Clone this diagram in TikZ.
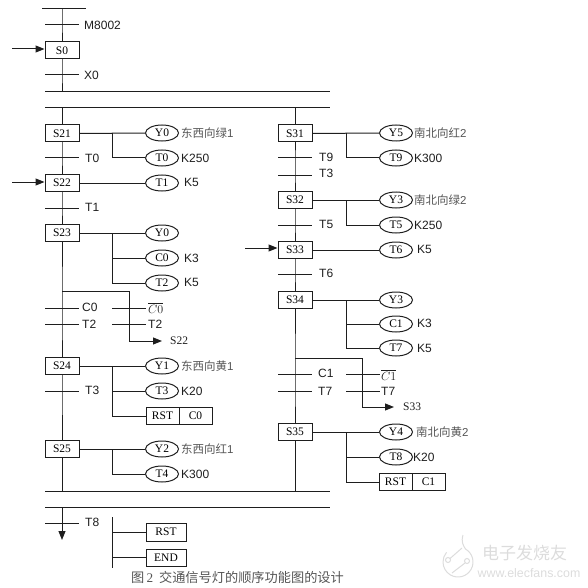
\documentclass[tikz,border=0pt]{standalone}
\usepackage{fontspec}
\setmainfont{Liberation Serif}
\setsansfont{Liberation Sans}
\newfontfamily\cjk{Noto Sans CJK SC}
\definecolor{ink}{RGB}{30,30,30}
\definecolor{soft}{RGB}{85,85,85}
\definecolor{faint}{RGB}{220,220,220}
\usetikzlibrary{arrows.meta,positioning,shapes.geometric}
\tikzset{
  stepbox/.style={draw=ink, fill=white, line width=1pt, minimum width=34pt, minimum height=17pt,
              inner sep=0pt, font=\fontsize{11.5}{12}\selectfont},
  lamp/.style={draw=ink, ellipse, line width=1pt, minimum width=33pt, minimum height=16pt,
              inner sep=0pt, font=\fontsize{11.5}{12}\selectfont},
  cell/.style={draw=ink, fill=white, line width=1pt, minimum width=33pt, minimum height=17pt,
              inner sep=0pt, font=\fontsize{11.5}{12}\selectfont},
  bar/.style={fill=ink, minimum width=34pt, minimum height=1pt, inner sep=0pt, outer sep=0pt},
  bus/.style={fill=ink, minimum width=285pt, minimum height=1pt, inner sep=0pt, outer sep=0pt},
  lab/.style={anchor=west, inner sep=0pt, text=ink, font=\sffamily\fontsize{12}{13}\selectfont},
  note/.style={anchor=west, inner sep=0pt, text=soft, font=\cjk\fontsize{11.5}{12}\selectfont},
  neg/.style={anchor=west, inner sep=0pt, text=ink, font=\fontsize{13}{14}\selectfont},
  wire/.style={ink, line width=1pt},
  flow/.style={ink, line width=1pt, -{Triangle[length=9pt,width=7pt]}},
}
\begin{document}
\begin{tikzpicture}[x=1pt,y=-1pt]
  \useasboundingbox (0,0) rectangle (587,588);
  % start
  \node[bar, minimum width=44pt] (top) at (64,9) {};
  \node[bar] (m8002) at (62,25) {};
  \node[lab] (m8002t) at (84,25) {M8002};
  \node[stepbox] (s0) at (62,50.5) {S0};
  \node[bar] (x0) at (62,75) {};
  \node[lab] (x0t) at (84,75) {X0};
  \coordinate (in0) at (12,49);
  \node[bus] (busa) at (187.5,92) {};
  \node[bus] (busb) at (187.5,108) {};
  \node[bus] (busc) at (187.5,491) {};
  \node[bus] (busd) at (187.5,507) {};
  \draw[wire] (s0 |- top) -- (m8002.center) -- (s0);
  \draw[wire] (s0) -- (x0.center) -- (x0 |- busa);
  \draw[flow] (in0) -- (s0.west |- in0);

  % left branch
  \node[stepbox] (s21) at (62,133.5) {S21};
  \node[lamp] (y0a) at (162,133) {Y0};
  \node[lamp] (t0a) at (162,158) {T0};
  \node[note] (y0at) at (181,133) {东西向绿{\sffamily 1}};
  \node[lab] (t0at) at (181,158) {K250};
  \node[bar] (t0) at (62,158) {};
  \node[lab] (t0t) at (85,158) {T0};
  \coordinate (j21) at (112,133);
  \draw[wire] (s21) -- (y0a);
  \draw[wire] (j21) |- (t0a.west);

  \node[stepbox] (s22) at (62,183) {S22};
  \node[lamp] (t1a) at (162,183) {T1};
  \node[lab] (t1at) at (184,182) {K5};
  \node[bar] (t1) at (62,208) {};
  \node[lab] (t1t) at (85,207) {T1};
  \coordinate (in22) at (12,182);
  \draw[wire] (s22) -- (t1a);
  \draw[flow] (in22) -- (s22.west |- in22);

  \node[stepbox] (s23) at (62,233) {S23};
  \node[lamp] (y0b) at (162,233) {Y0};
  \node[lamp] (c0a) at (162,258) {C0};
  \node[lamp] (t2a) at (162,283) {T2};
  \node[lab] (c0at) at (184,258) {K3};
  \node[lab] (t2at) at (184,282) {K5};
  \coordinate (j23) at (112,233);
  \draw[wire] (s23) -- (y0b);
  \draw[wire] (j23) |- (c0a.west);
  \draw[wire] (j23) |- (t2a.west);

  \coordinate (fork22) at (62,291);
  \coordinate (turn22) at (129,341);
  \node[bar] (c0) at (62,308) {};
  \node[bar] (t2) at (62,324) {};
  \node[bar] (c0n) at (129,308) {};
  \node[bar] (t2n) at (129,324) {};
  \node[lab] (c0t) at (82,307) {C0};
  \node[lab] (t2t) at (82,324) {T2};
  \node[neg] (c0nt) at (148,308) {$\overline{C0}$};
  \node[lab] (t2nt) at (148,324) {T2};
  \node[lab, font=\fontsize{11.5}{12}\selectfont] (to22) at (170,341) {S22};
  \draw[wire] (fork22) -| (turn22);
  \draw[flow, shorten >=8pt] (turn22) -- (to22.west);

  \node[stepbox] (s24) at (62,366) {S24};
  \node[lamp] (y1) at (162,366) {Y1};
  \node[lamp] (t3a) at (162,391) {T3};
  \node[cell] (rsta) at (162.5,416) {RST};
  \node[cell] (c0b) at (195.5,416) {C0};
  \node[note] (y1t) at (181,366) {东西向黄{\sffamily 1}};
  \node[lab] (t3at) at (181,391) {K20};
  \node[bar] (t3) at (62,391) {};
  \node[lab] (t3t) at (85,390) {T3};
  \coordinate (j24) at (112,366);
  \draw[wire] (s24) -- (y1);
  \draw[wire] (j24) |- (t3a.west);
  \draw[wire] (j24) |- (rsta.west);

  \node[stepbox] (s25) at (62,449) {S25};
  \node[lamp] (y2) at (162,449) {Y2};
  \node[lamp] (t4a) at (162,474) {T4};
  \node[note] (y2t) at (181,449) {东西向红{\sffamily 1}};
  \node[lab] (t4at) at (181,474) {K300};
  \coordinate (j25) at (112,449);
  \draw[wire] (s25) -- (y2);
  \draw[wire] (j25) |- (t4a.west);

  \draw[wire] (s21 |- busb) -- (s21);
  \draw[wire] (s21) -- (t0.center) -- (s22);
  \draw[wire] (s22) -- (t1.center) -- (s23);
  \draw[wire] (s23) -- (fork22) -- (c0.center) -- (t2.center) -- (s24);
  \draw[wire] (s24) -- (t3.center) -- (s25);
  \draw[wire] (s25) -- (s25 |- busc);

  % right branch
  \node[stepbox] (s31) at (295,133.5) {S31};
  \node[lamp] (y5) at (396,133) {Y5};
  \node[lamp] (t9a) at (396,158) {T9};
  \node[note] (y5t) at (414,133) {南北向红{\sffamily 2}};
  \node[lab] (t9at) at (414,158) {K300};
  \node[bar] (t9) at (295,158) {};
  \node[bar] (t3b) at (295,175) {};
  \node[lab] (t9t) at (319,157) {T9};
  \node[lab] (t3bt) at (319,173) {T3};
  \coordinate (j31) at (346,133);
  \draw[wire] (s31) -- (y5);
  \draw[wire] (j31) |- (t9a.west);

  \node[stepbox] (s32) at (295,200) {S32};
  \node[lamp] (y3a) at (396,200) {Y3};
  \node[lamp] (t5a) at (396,225) {T5};
  \node[note] (y3at) at (414,200) {南北向绿{\sffamily 2}};
  \node[lab] (t5at) at (414,225) {K250};
  \node[bar] (t5) at (295,225) {};
  \node[lab] (t5t) at (319,224) {T5};
  \coordinate (j32) at (346,200);
  \draw[wire] (s32) -- (y3a);
  \draw[wire] (j32) |- (t5a.west);

  \node[stepbox] (s33) at (295,250) {S33};
  \node[lamp] (t6a) at (396,250) {T6};
  \node[lab] (t6at) at (417,249) {K5};
  \node[bar] (t6) at (295,274) {};
  \node[lab] (t6t) at (319,273) {T6};
  \coordinate (in33) at (245,248);
  \draw[wire] (s33) -- (t6a);
  \draw[flow] (in33) -- (s33.west |- in33);

  \node[stepbox] (s34) at (295,300) {S34};
  \node[lamp] (y3b) at (396,300) {Y3};
  \node[lamp] (c1a) at (396,324) {C1};
  \node[lamp] (t7a) at (396,348) {T7};
  \node[lab] (c1at) at (417,323) {K3};
  \node[lab] (t7at) at (417,348) {K5};
  \coordinate (j34) at (346,300);
  \draw[wire] (s34) -- (y3b);
  \draw[wire] (j34) |- (c1a.west);
  \draw[wire] (j34) |- (t7a.west);

  \coordinate (fork33) at (295,358);
  \coordinate (turn33) at (362,407);
  \node[bar] (c1) at (295,374) {};
  \node[bar] (t7) at (295,391) {};
  \node[bar] (c1n) at (363,374) {};
  \node[bar] (t7n) at (363,391) {};
  \node[lab] (c1t) at (318,373) {C1};
  \node[lab] (t7t) at (318,391) {T7};
  \node[neg] (c1nt) at (381,375) {$\overline{C1}$};
  \node[lab] (t7nt) at (381,391) {T7};
  \node[lab, font=\fontsize{11.5}{12}\selectfont] (to33) at (403,407) {S33};
  \draw[wire] (fork33) -| (turn33);
  \draw[flow, shorten >=9pt] (turn33) -- (to33.west);

  \node[stepbox] (s35) at (295,432) {S35};
  \node[lamp] (y4) at (396,432) {Y4};
  \node[lamp] (t8a) at (396,457) {T8};
  \node[cell] (rstb) at (395.5,482) {RST};
  \node[cell] (c1b) at (428.5,482) {C1};
  \node[note] (y4t) at (416,432) {南北向黄{\sffamily 2}};
  \node[lab] (t8at) at (413,457) {K20};
  \coordinate (j35) at (346,432);
  \draw[wire] (s35) -- (y4);
  \draw[wire] (j35) |- (t8a.west);
  \draw[wire] (j35) |- (rstb.west);

  \draw[wire] (s31 |- busb) -- (s31);
  \draw[wire] (s31) -- (t9.center) -- (t3b.center) -- (s32);
  \draw[wire] (s32) -- (t5.center) -- (s33);
  \draw[wire] (s33) -- (t6.center) -- (s34);
  \draw[wire] (s34) -- (fork33) -- (c1.center) -- (t7.center) -- (s35);
  \draw[wire] (s35) -- (s35 |- busc);

  % end
  \node[bar] (t8) at (62,523) {};
  \node[lab] (t8t) at (85,522) {T8};
  \coordinate (out) at (62,540);
  \draw[flow] (t8 |- busd) -- (out);
  \coordinate (railtop) at (112,517);
  \coordinate (railend) at (112,568);
  \node[cell, minimum width=40pt, minimum height=18pt] (rstc) at (166,532) {RST};
  \node[cell, minimum width=40pt, minimum height=17pt] (endc) at (166,557.5) {END};
  \draw[wire] (railtop) -- (railend);
  \draw[wire] (railtop |- rstc) -- (rstc.west);
  \draw[wire] (railtop |- endc) -- (endc.west);
  \node[anchor=center, inner sep=0pt, text=soft, font=\cjk\fontsize{13.2}{14}\selectfont] (cap) at (237.5,577)
    {图\,{\rmfamily 2}\ \ 交通信号灯的顺序功能图的设计};

  % site mark
  \draw[faint, line width=1pt] (463,535) .. controls (461,542) and (463,545) .. (465.5,549) arc (-60:220:15);
  \draw[faint, line width=1pt] (450,558.5) -- (462,548);
  \draw[faint, line width=1pt] (465,563) -- (452,573);
  \draw[faint, line width=1pt] (448,560) circle (2.5);
  \draw[faint, line width=1pt] (467,561) circle (2.5);
  \node[inner sep=0pt, text=faint, font=\cjk\fontsize{17}{18}\selectfont] (logoa) at (524.5,553) {电子发烧友};
  \node[inner sep=0pt, text=faint, font=\sffamily\fontsize{12.4}{13}\selectfont] (logob) at (529,573) {www.elecfans.com};
\end{tikzpicture}
\end{document}
